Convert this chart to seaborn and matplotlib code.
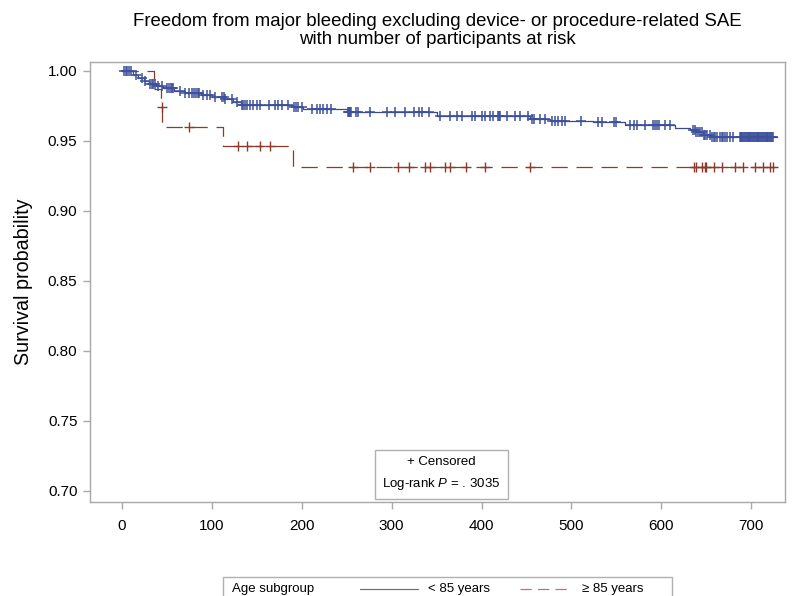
import numpy as np
import pandas as pd
import seaborn as sns
import matplotlib.pyplot as plt
from matplotlib.lines import Line2D
from matplotlib.patches import Rectangle

# Kaplan-Meier step levels
blue_t = [0, 12, 18, 24, 30, 38, 46, 58, 70, 88, 100, 115, 123, 132, 190, 201, 250,
          350, 454, 476, 524, 559, 615, 632, 639, 646, 656, 729]
blue_s = [1.000, 0.997, 0.995, 0.993, 0.991, 0.989, 0.988, 0.986, 0.984, 0.983, 0.9817,
          0.980, 0.978, 0.9755, 0.974, 0.9725, 0.971, 0.968, 0.9657, 0.9645, 0.9633,
          0.9614, 0.959, 0.9579, 0.9566, 0.9543, 0.953, 0.953]
blue_cens = [2, 4, 6, 8, 10, 16, 22, 26, 31, 33, 35, 37, 40, 44, 50, 52, 54, 56, 57, 64,
             70, 74, 78, 80, 82, 84, 86, 90, 94, 98, 103, 111, 113, 115, 122, 128, 133,
             135, 137, 139, 142, 146, 150, 153, 163, 170, 174, 178, 185, 191, 194, 196,
             200, 211, 217, 220, 224, 228, 233, 251, 252, 253, 254, 255, 260, 263, 276,
             295, 304, 315, 325, 330, 334, 341, 354, 365, 373, 378, 389, 393, 400, 404,
             409, 413, 418, 419, 420, 428, 437, 443, 452, 456, 458, 465, 471, 478, 482,
             485, 489, 493, 511, 530, 534, 547, 550, 565, 569, 573, 582, 591, 593, 595,
             597, 604, 610, 635, 637, 639, 641, 643, 645, 647, 649, 651, 654, 656, 658,
             660, 662, 665, 667, 669, 671, 673, 676, 680, 687, 688, 689, 690, 691, 692,
             693, 694, 695, 696, 697, 698, 699, 700, 701, 702, 703, 704, 705, 706, 707,
             708, 709, 710, 711, 712, 713, 714, 715, 716, 717, 718, 719, 720, 721, 722,
             723, 724]

brown_t = [0, 36, 43, 45, 112, 190, 729]
brown_s = [1.000, 0.987, 0.974, 0.960, 0.9464, 0.9317, 0.9317]
brown_cens = [44, 75, 129, 139, 154, 165, 257, 276, 307, 319, 337, 343, 359, 365, 383,
              404, 454, 636, 639, 645, 648, 650, 658, 667, 682, 691, 704, 713, 721, 724]

xticks = [0, 100, 200, 300, 400, 500, 600, 700]
yticks = [0.70, 0.75, 0.80, 0.85, 0.90, 0.95, 1.00]

BLUE = '#3b4a86'
BLUE_MARK = '#3d509c'
BROWN = '#8b3b2b'


def at_step(times, steps_t, steps_s):
    idx = np.searchsorted(steps_t, times, side='right') - 1
    return np.asarray(steps_s)[idx]


sns.set_theme(style='white')
plt.rcParams['font.family'] = ['Liberation Sans', 'DejaVu Sans']
plt.rcParams['mathtext.fontset'] = 'custom'
plt.rcParams['mathtext.it'] = 'Liberation Sans:italic'
plt.rcParams['mathtext.rm'] = 'Liberation Sans'
plt.rcParams['text.color'] = 'black'
plt.rcParams['axes.labelcolor'] = 'black'

W, H = 792, 596
fig = plt.figure(figsize=(W / 100, H / 100), dpi=100)
ax = fig.add_axes([90 / W, 94 / H, 695 / W, 440 / H])

blue = pd.DataFrame({'time': blue_t, 'surv': blue_s})
brown = pd.DataFrame({'time': brown_t, 'surv': brown_s})

sns.lineplot(data=blue, x='time', y='surv', drawstyle='steps-post', color=BLUE,
             linewidth=0.9, estimator=None, ax=ax)
sns.lineplot(data=brown, x='time', y='surv', drawstyle='steps-post', color=BROWN,
             linewidth=0.9, estimator=None, linestyle=(0, (13, 7)), ax=ax)

sns.scatterplot(x=blue_cens, y=at_step(blue_cens, blue_t, blue_s), marker='+', s=60,
                linewidth=1.1, color=BLUE_MARK, legend=False, zorder=3, ax=ax)
sns.scatterplot(x=brown_cens, y=at_step(brown_cens, brown_t, brown_s), marker='+', s=60,
                linewidth=1.0, color=BROWN, legend=False, zorder=3, ax=ax)

ax.set_xlim(-35.6, 737.5)
ax.set_ylim(0.692, 1.0064)
ax.set_xticks(xticks)
ax.set_yticks(yticks)
ax.set_yticklabels([f'{v:.2f}' for v in yticks])
ax.set_xlabel('')
ax.set_ylabel('Survival probability', fontsize=14.2, labelpad=11, color='black')
ax.tick_params(axis='both', which='major', direction='out', length=5, width=1,
               color='#a8a8a8', labelsize=11, labelcolor='black', pad=4,
               bottom=True, left=True)
ax.tick_params(axis='x', pad=7)
for sp in ax.spines.values():
    sp.set_color('#a8a8a8')
    sp.set_linewidth(1)

ax.set_title('Freedom from major bleeding excluding device- or procedure-related SAE\n'
             'with number of participants at risk', fontsize=13.4, pad=13, linespacing=1.1,
             color='black')

ax.text(355, 0.7121, '+ Censored\nLog-rank $P$ = . 3035', ha='center', va='center',
        fontsize=9.5, linespacing=1.75, color='black',
        bbox=dict(boxstyle='square,pad=0.55', facecolor='white', edgecolor='#b0b0b0',
                  linewidth=1))


def fx(px):
    return px / W


def fy(py):
    return 1 - py / H


fig.add_artist(Rectangle((fx(223), fy(610)), fx(672) - fx(223), fy(577) - fy(610),
                         transform=fig.transFigure, facecolor='none',
                         edgecolor='#b0b0b0', linewidth=1))
fig.text(fx(232), fy(589), 'Age subgroup', fontsize=9.5, va='center', ha='left')
fig.add_artist(Line2D([fx(360), fx(418)], [fy(589), fy(589)], transform=fig.transFigure,
                      color='#6a7090', linewidth=0.9))
fig.text(fx(428), fy(589), '< 85 years', fontsize=9.5, va='center', ha='left')
fig.add_artist(Line2D([fx(520), fx(570)], [fy(589), fy(589)], transform=fig.transFigure,
                      color='#b07a70', linewidth=0.9, linestyle=(0, (9, 5))))
fig.text(fx(582), fy(589), '≥ 85 years', fontsize=9.5, va='center', ha='left')

fig.savefig('out.png', dpi=100)
